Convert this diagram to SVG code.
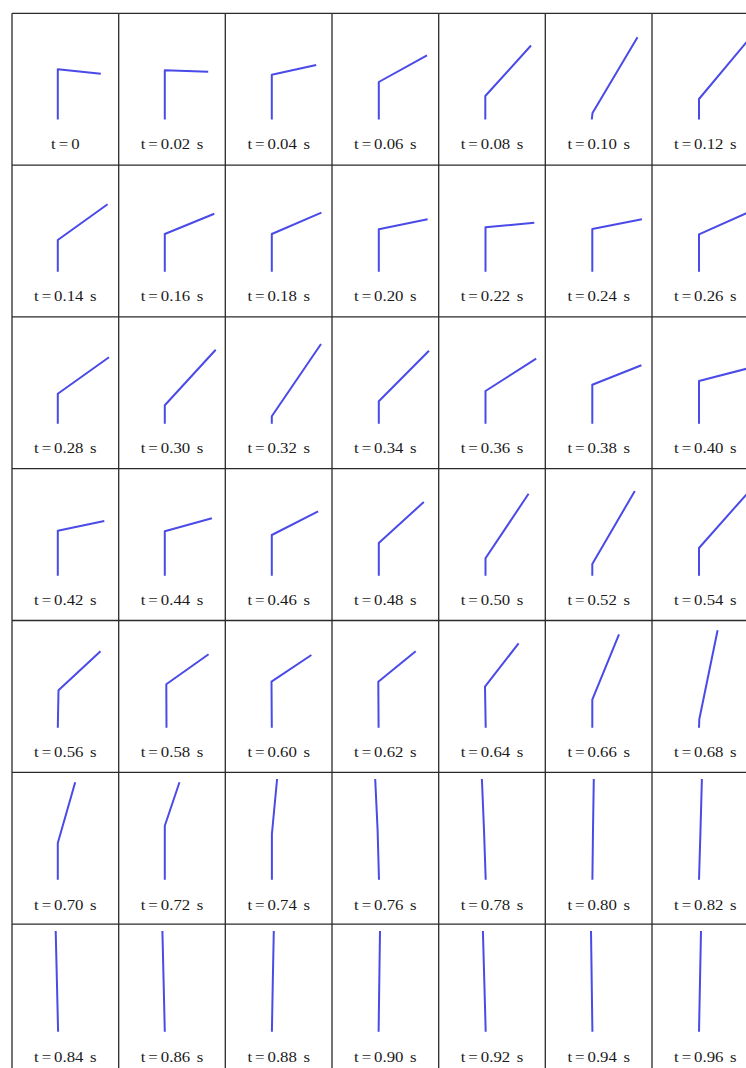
<svg xmlns="http://www.w3.org/2000/svg" width="746" height="1068" viewBox="0 0 746 1068">
<style>
.bg{fill:#ffffff}
.grid{stroke:#2a2a2a;stroke-width:1.3;fill:none}
.arm{stroke:#4a4ae8;stroke-width:2;fill:none;stroke-linejoin:round;stroke-linecap:butt}
.lbl{font-family:"Liberation Serif","Times New Roman",serif;font-size:14px;fill:#1a1a1a;text-anchor:middle}
</style>
<rect class="bg" x="0" y="0" width="746" height="1068"/>
<g id="grid" class="grid">
<line x1="12" y1="13.3" x2="12" y2="1068"/>
<line x1="118.7" y1="13.3" x2="118.7" y2="1068"/>
<line x1="225.3" y1="13.3" x2="225.3" y2="1068"/>
<line x1="332" y1="13.3" x2="332" y2="1068"/>
<line x1="438.7" y1="13.3" x2="438.7" y2="1068"/>
<line x1="545.3" y1="13.3" x2="545.3" y2="1068"/>
<line x1="652" y1="13.3" x2="652" y2="1068"/>
<line x1="12" y1="13.3" x2="746" y2="13.3"/>
<line x1="12" y1="165.1" x2="746" y2="165.1"/>
<line x1="12" y1="316.9" x2="746" y2="316.9"/>
<line x1="12" y1="468.7" x2="746" y2="468.7"/>
<line x1="12" y1="620.5" x2="746" y2="620.5"/>
<line x1="12" y1="772.3" x2="746" y2="772.3"/>
<line x1="12" y1="924.1" x2="746" y2="924.1"/>
</g>

<g id="row1">
<g id="f00"><polyline class="arm" points="57.8,119.5 57.8,69.3 100.8,73.8"/><text class="lbl" transform="translate(65.3,149) scale(1.2,1)">t<tspan dx="2.5">=</tspan><tspan dx="2.5">0</tspan></text></g>
<g id="f01"><polyline class="arm" points="164.8,119.5 164.8,70.3 208.2,71.8"/><text class="lbl" transform="translate(172,149) scale(1.2,1)">t<tspan dx="2.5">=</tspan><tspan dx="2.5">0.02</tspan><tspan dx="2"> s</tspan></text></g>
<g id="f02"><polyline class="arm" points="271.8,119.5 271.8,74.7 316.2,65"/><text class="lbl" transform="translate(278.7,149) scale(1.2,1)">t<tspan dx="2.5">=</tspan><tspan dx="2.5">0.04</tspan><tspan dx="2"> s</tspan></text></g>
<g id="f03"><polyline class="arm" points="378.8,119.5 378.8,82 427,55.3"/><text class="lbl" transform="translate(385.3,149) scale(1.2,1)">t<tspan dx="2.5">=</tspan><tspan dx="2.5">0.06</tspan><tspan dx="2"> s</tspan></text></g>
<g id="f04"><polyline class="arm" points="485.3,119.5 485.3,96 531,45.5"/><text class="lbl" transform="translate(492,149) scale(1.2,1)">t<tspan dx="2.5">=</tspan><tspan dx="2.5">0.08</tspan><tspan dx="2"> s</tspan></text></g>
<g id="f05"><polyline class="arm" points="591.8,119.5 592.5,113 637.5,37.2"/><text class="lbl" transform="translate(598.7,149) scale(1.2,1)">t<tspan dx="2.5">=</tspan><tspan dx="2.5">0.10</tspan><tspan dx="2"> s</tspan></text></g>
<g id="f06"><polyline class="arm" points="699,119.5 699,99 750,38"/><text class="lbl" transform="translate(705.3,149) scale(1.2,1)">t<tspan dx="2.5">=</tspan><tspan dx="2.5">0.12</tspan><tspan dx="2"> s</tspan></text></g>
</g>

<g id="row2">
<g id="f10"><polyline class="arm" points="57.8,271.7 57.8,240 107.6,204.3"/><text class="lbl" transform="translate(65.3,301) scale(1.2,1)">t<tspan dx="2.5">=</tspan><tspan dx="2.5">0.14</tspan><tspan dx="2"> s</tspan></text></g>
<g id="f11"><polyline class="arm" points="164.8,271.7 164.8,234 214.3,213.7"/><text class="lbl" transform="translate(172,301) scale(1.2,1)">t<tspan dx="2.5">=</tspan><tspan dx="2.5">0.16</tspan><tspan dx="2"> s</tspan></text></g>
<g id="f12"><polyline class="arm" points="271.8,271.7 271.8,234 321.4,212.7"/><text class="lbl" transform="translate(278.7,301) scale(1.2,1)">t<tspan dx="2.5">=</tspan><tspan dx="2.5">0.18</tspan><tspan dx="2"> s</tspan></text></g>
<g id="f13"><polyline class="arm" points="378.8,271.7 378.8,229.3 427.6,219.3"/><text class="lbl" transform="translate(385.3,301) scale(1.2,1)">t<tspan dx="2.5">=</tspan><tspan dx="2.5">0.20</tspan><tspan dx="2"> s</tspan></text></g>
<g id="f14"><polyline class="arm" points="485.5,271.7 485.5,227.3 534.3,222.7"/><text class="lbl" transform="translate(492,301) scale(1.2,1)">t<tspan dx="2.5">=</tspan><tspan dx="2.5">0.22</tspan><tspan dx="2"> s</tspan></text></g>
<g id="f15"><polyline class="arm" points="592.3,271.7 592.3,229 641.9,219.3"/><text class="lbl" transform="translate(598.7,301) scale(1.2,1)">t<tspan dx="2.5">=</tspan><tspan dx="2.5">0.24</tspan><tspan dx="2"> s</tspan></text></g>
<g id="f16"><polyline class="arm" points="699,271.7 699,234.3 750,211.5"/><text class="lbl" transform="translate(705.3,301) scale(1.2,1)">t<tspan dx="2.5">=</tspan><tspan dx="2.5">0.26</tspan><tspan dx="2"> s</tspan></text></g>
</g>

<g id="row3">
<g id="f20"><polyline class="arm" points="57.8,423.7 57.8,393.7 109,357.3"/><text class="lbl" transform="translate(65.3,453) scale(1.2,1)">t<tspan dx="2.5">=</tspan><tspan dx="2.5">0.28</tspan><tspan dx="2"> s</tspan></text></g>
<g id="f21"><polyline class="arm" points="164.8,423.7 164.8,405.3 215.7,349.7"/><text class="lbl" transform="translate(172,453) scale(1.2,1)">t<tspan dx="2.5">=</tspan><tspan dx="2.5">0.30</tspan><tspan dx="2"> s</tspan></text></g>
<g id="f22"><polyline class="arm" points="271.8,423.7 271.8,416.3 321,344"/><text class="lbl" transform="translate(278.7,453) scale(1.2,1)">t<tspan dx="2.5">=</tspan><tspan dx="2.5">0.32</tspan><tspan dx="2"> s</tspan></text></g>
<g id="f23"><polyline class="arm" points="378.8,423.7 378.8,401.3 429,350.7"/><text class="lbl" transform="translate(385.3,453) scale(1.2,1)">t<tspan dx="2.5">=</tspan><tspan dx="2.5">0.34</tspan><tspan dx="2"> s</tspan></text></g>
<g id="f24"><polyline class="arm" points="485.5,423.7 485.5,391 536.2,358.7"/><text class="lbl" transform="translate(492,453) scale(1.2,1)">t<tspan dx="2.5">=</tspan><tspan dx="2.5">0.36</tspan><tspan dx="2"> s</tspan></text></g>
<g id="f25"><polyline class="arm" points="592.3,423.7 592.3,384.7 641.4,365.3"/><text class="lbl" transform="translate(598.7,453) scale(1.2,1)">t<tspan dx="2.5">=</tspan><tspan dx="2.5">0.38</tspan><tspan dx="2"> s</tspan></text></g>
<g id="f26"><polyline class="arm" points="699,423.7 699,381 752,367.3"/><text class="lbl" transform="translate(705.3,453) scale(1.2,1)">t<tspan dx="2.5">=</tspan><tspan dx="2.5">0.40</tspan><tspan dx="2"> s</tspan></text></g>
</g>

<g id="row4">
<g id="f30"><polyline class="arm" points="57.8,575.7 57.8,530.7 104.3,521"/><text class="lbl" transform="translate(65.3,605) scale(1.2,1)">t<tspan dx="2.5">=</tspan><tspan dx="2.5">0.42</tspan><tspan dx="2"> s</tspan></text></g>
<g id="f31"><polyline class="arm" points="164.8,575.7 164.8,531.3 211.9,518.3"/><text class="lbl" transform="translate(172,605) scale(1.2,1)">t<tspan dx="2.5">=</tspan><tspan dx="2.5">0.44</tspan><tspan dx="2"> s</tspan></text></g>
<g id="f32"><polyline class="arm" points="271.8,575.7 271.8,535 318.1,511.3"/><text class="lbl" transform="translate(278.7,605) scale(1.2,1)">t<tspan dx="2.5">=</tspan><tspan dx="2.5">0.46</tspan><tspan dx="2"> s</tspan></text></g>
<g id="f33"><polyline class="arm" points="378.8,575.7 378.8,543 423.8,502"/><text class="lbl" transform="translate(385.3,605) scale(1.2,1)">t<tspan dx="2.5">=</tspan><tspan dx="2.5">0.48</tspan><tspan dx="2"> s</tspan></text></g>
<g id="f34"><polyline class="arm" points="485.5,575.7 485.5,558.3 528.6,493.7"/><text class="lbl" transform="translate(492,605) scale(1.2,1)">t<tspan dx="2.5">=</tspan><tspan dx="2.5">0.50</tspan><tspan dx="2"> s</tspan></text></g>
<g id="f35"><polyline class="arm" points="592.3,575.7 592.3,564 634.8,491"/><text class="lbl" transform="translate(598.7,605) scale(1.2,1)">t<tspan dx="2.5">=</tspan><tspan dx="2.5">0.52</tspan><tspan dx="2"> s</tspan></text></g>
<g id="f36"><polyline class="arm" points="699,575.7 699,548 749,491.5"/><text class="lbl" transform="translate(705.3,605) scale(1.2,1)">t<tspan dx="2.5">=</tspan><tspan dx="2.5">0.54</tspan><tspan dx="2"> s</tspan></text></g>
</g>

<g id="row5">
<g id="f40"><polyline class="arm" points="57.8,727.7 58.5,690.3 100.5,651.3"/><text class="lbl" transform="translate(65.3,757) scale(1.2,1)">t<tspan dx="2.5">=</tspan><tspan dx="2.5">0.56</tspan><tspan dx="2"> s</tspan></text></g>
<g id="f41"><polyline class="arm" points="166.5,727.7 166.3,684.3 208.6,654.3"/><text class="lbl" transform="translate(172,757) scale(1.2,1)">t<tspan dx="2.5">=</tspan><tspan dx="2.5">0.58</tspan><tspan dx="2"> s</tspan></text></g>
<g id="f42"><polyline class="arm" points="271.8,727.7 271.5,681.7 311.4,655"/><text class="lbl" transform="translate(278.7,757) scale(1.2,1)">t<tspan dx="2.5">=</tspan><tspan dx="2.5">0.60</tspan><tspan dx="2"> s</tspan></text></g>
<g id="f43"><polyline class="arm" points="378.6,727.7 378.3,681.7 415.7,651.3"/><text class="lbl" transform="translate(385.3,757) scale(1.2,1)">t<tspan dx="2.5">=</tspan><tspan dx="2.5">0.62</tspan><tspan dx="2"> s</tspan></text></g>
<g id="f44"><polyline class="arm" points="485.7,727.7 485,686.7 518.6,643.3"/><text class="lbl" transform="translate(492,757) scale(1.2,1)">t<tspan dx="2.5">=</tspan><tspan dx="2.5">0.64</tspan><tspan dx="2"> s</tspan></text></g>
<g id="f45"><polyline class="arm" points="592.3,727.7 592.3,699.7 619,634.3"/><text class="lbl" transform="translate(598.7,757) scale(1.2,1)">t<tspan dx="2.5">=</tspan><tspan dx="2.5">0.66</tspan><tspan dx="2"> s</tspan></text></g>
<g id="f46"><polyline class="arm" points="699,727.7 699.3,719.3 717.6,630.3"/><text class="lbl" transform="translate(705.3,757) scale(1.2,1)">t<tspan dx="2.5">=</tspan><tspan dx="2.5">0.68</tspan><tspan dx="2"> s</tspan></text></g>
</g>

<g id="row6">
<g id="f50"><polyline class="arm" points="57.8,879.7 57.8,843 75.2,782.3"/><text class="lbl" transform="translate(65.3,910) scale(1.2,1)">t<tspan dx="2.5">=</tspan><tspan dx="2.5">0.70</tspan><tspan dx="2"> s</tspan></text></g>
<g id="f51"><polyline class="arm" points="164.8,879.7 164.8,825.7 179.5,782.3"/><text class="lbl" transform="translate(172,910) scale(1.2,1)">t<tspan dx="2.5">=</tspan><tspan dx="2.5">0.72</tspan><tspan dx="2"> s</tspan></text></g>
<g id="f52"><polyline class="arm" points="271.9,879.7 271.9,834 277.1,779"/><text class="lbl" transform="translate(278.7,910) scale(1.2,1)">t<tspan dx="2.5">=</tspan><tspan dx="2.5">0.74</tspan><tspan dx="2"> s</tspan></text></g>
<g id="f53"><polyline class="arm" points="379,879.7 377.6,830 375.2,779"/><text class="lbl" transform="translate(385.3,910) scale(1.2,1)">t<tspan dx="2.5">=</tspan><tspan dx="2.5">0.76</tspan><tspan dx="2"> s</tspan></text></g>
<g id="f54"><polyline class="arm" points="485.7,879.7 484,830 481.9,779"/><text class="lbl" transform="translate(492,910) scale(1.2,1)">t<tspan dx="2.5">=</tspan><tspan dx="2.5">0.78</tspan><tspan dx="2"> s</tspan></text></g>
<g id="f55"><polyline class="arm" points="592.4,879.7 593,830 593.8,779"/><text class="lbl" transform="translate(598.7,910) scale(1.2,1)">t<tspan dx="2.5">=</tspan><tspan dx="2.5">0.80</tspan><tspan dx="2"> s</tspan></text></g>
<g id="f56"><polyline class="arm" points="699,879.7 700.5,830 701.9,779"/><text class="lbl" transform="translate(705.3,910) scale(1.2,1)">t<tspan dx="2.5">=</tspan><tspan dx="2.5">0.82</tspan><tspan dx="2"> s</tspan></text></g>
</g>

<g id="row7">
<g id="f60"><polyline class="arm" points="58.1,1031.7 56.9,981 55.7,931"/><text class="lbl" transform="translate(65.3,1062) scale(1.2,1)">t<tspan dx="2.5">=</tspan><tspan dx="2.5">0.84</tspan><tspan dx="2"> s</tspan></text></g>
<g id="f61"><polyline class="arm" points="164.8,1031.7 163.6,981 162.4,931"/><text class="lbl" transform="translate(172,1062) scale(1.2,1)">t<tspan dx="2.5">=</tspan><tspan dx="2.5">0.86</tspan><tspan dx="2"> s</tspan></text></g>
<g id="f62"><polyline class="arm" points="271.9,1031.7 272.8,981 273.8,931"/><text class="lbl" transform="translate(278.7,1062) scale(1.2,1)">t<tspan dx="2.5">=</tspan><tspan dx="2.5">0.88</tspan><tspan dx="2"> s</tspan></text></g>
<g id="f63"><polyline class="arm" points="378.6,1031.7 379.3,981 380,931"/><text class="lbl" transform="translate(385.3,1062) scale(1.2,1)">t<tspan dx="2.5">=</tspan><tspan dx="2.5">0.90</tspan><tspan dx="2"> s</tspan></text></g>
<g id="f64"><polyline class="arm" points="485.7,1031.7 484.3,981 482.9,931"/><text class="lbl" transform="translate(492,1062) scale(1.2,1)">t<tspan dx="2.5">=</tspan><tspan dx="2.5">0.92</tspan><tspan dx="2"> s</tspan></text></g>
<g id="f65"><polyline class="arm" points="592.4,1031.7 591.7,981 591,931"/><text class="lbl" transform="translate(598.7,1062) scale(1.2,1)">t<tspan dx="2.5">=</tspan><tspan dx="2.5">0.94</tspan><tspan dx="2"> s</tspan></text></g>
<g id="f66"><polyline class="arm" points="699,1031.7 700,981 701,931"/><text class="lbl" transform="translate(705.3,1062) scale(1.2,1)">t<tspan dx="2.5">=</tspan><tspan dx="2.5">0.96</tspan><tspan dx="2"> s</tspan></text></g>
</g>
</svg>
